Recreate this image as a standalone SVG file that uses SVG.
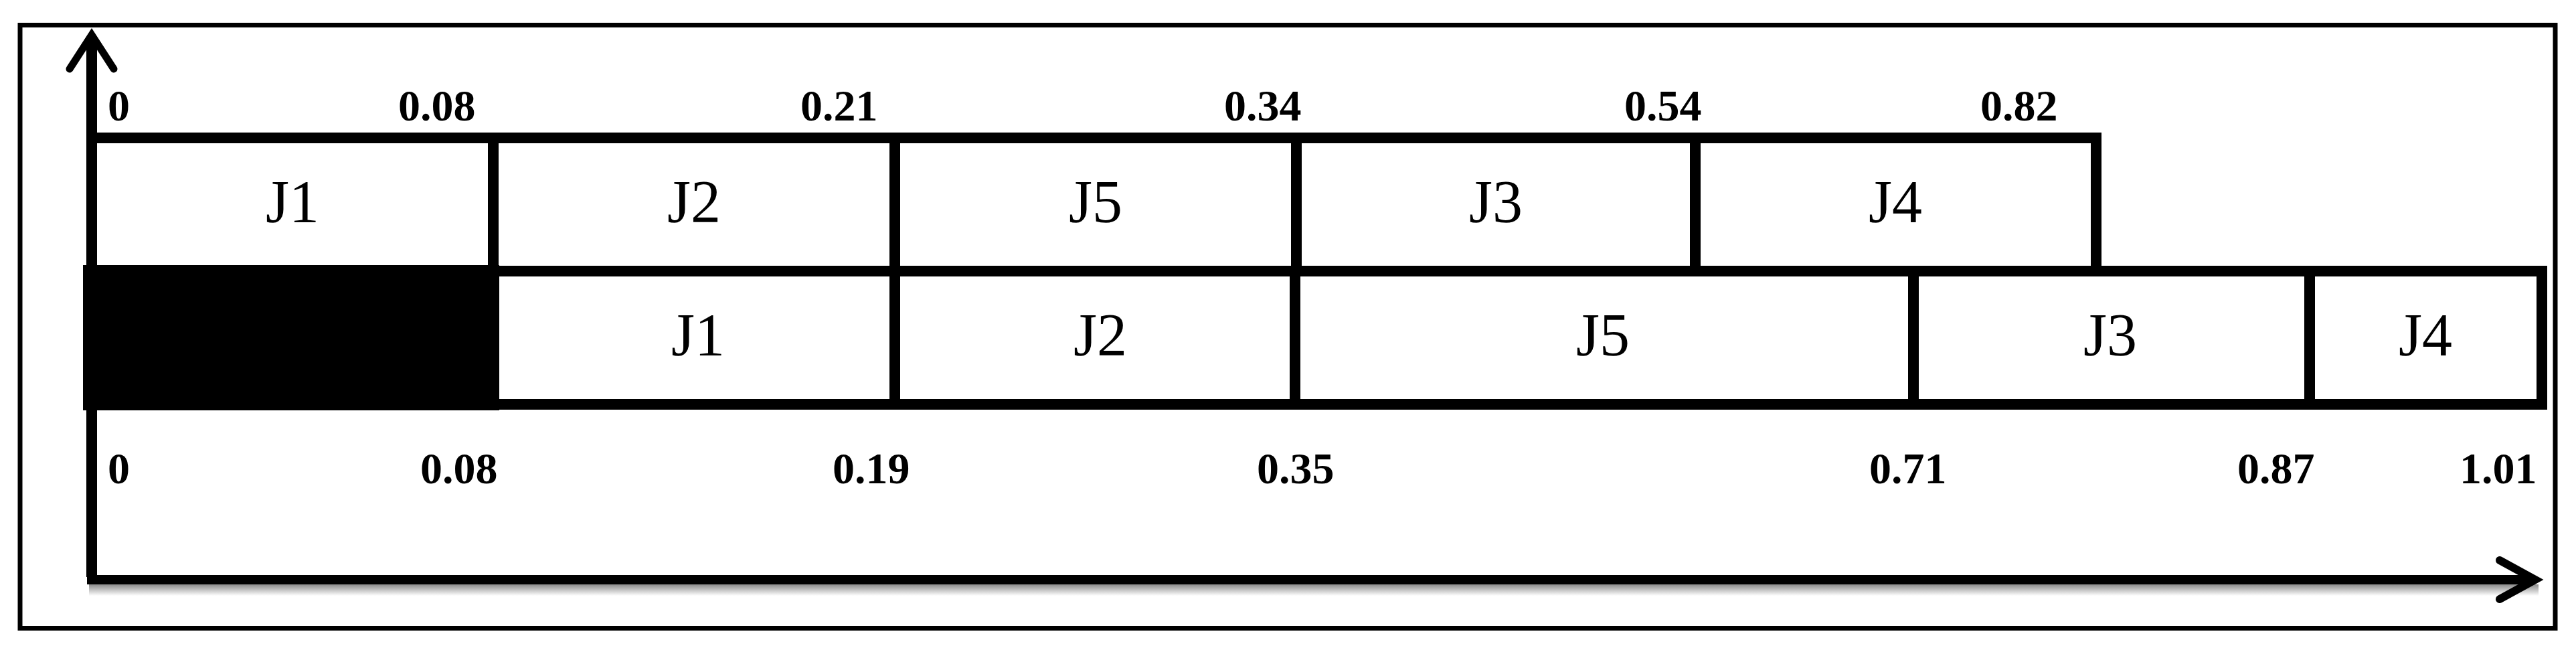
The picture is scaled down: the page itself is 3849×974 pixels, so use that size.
<svg xmlns="http://www.w3.org/2000/svg" width="3849" height="974" viewBox="0 0 3849 974">
<defs>
<style>
.box{fill:#fff;stroke:#000;stroke-width:16;stroke-linejoin:miter}
.lbl{font-family:"Liberation Serif","Times New Roman",serif;font-size:90px;fill:#000;text-anchor:middle}
.num{font-family:"Liberation Serif","Times New Roman",serif;font-size:66px;font-weight:bold;fill:#000}
.axis{stroke:#000;fill:none}
</style>
<linearGradient id="shadow" x1="0" y1="0" x2="0" y2="1">
<stop offset="0" stop-color="#8a8a8a"/>
<stop offset="1" stop-color="#ffffff"/>
</linearGradient>
</defs>
<rect x="0" y="0" width="3849" height="974" fill="#fff"/>
<rect id="frame" x="30" y="37.5" width="3788" height="901" fill="none" stroke="#000" stroke-width="7"/>

<g id="connectors">
<rect x="133" y="873" width="3660" height="17" fill="url(#shadow)"/>
<line class="axis" x1="137" y1="862" x2="137" y2="56" stroke-width="16"/>
<polyline class="axis" points="104,103 137,52 170,103" stroke-width="11" stroke-linecap="round" stroke-linejoin="miter"/>
<line class="axis" x1="130" y1="866" x2="3788" y2="866" stroke-width="14"/>
<polyline class="axis" points="3735,837 3788,866 3735,895" stroke-width="12" stroke-linecap="round" stroke-linejoin="miter"/>
</g>

<g id="m1-j1"><rect class="box" x="137" y="206" width="600" height="199"/><text class="lbl" x="437" y="332">J1</text></g>
<g id="m1-j2"><rect class="box" x="737" y="206" width="600" height="199"/><text class="lbl" x="1037" y="332">J2</text></g>
<g id="m1-j5"><rect class="box" x="1337" y="206" width="600" height="199"/><text class="lbl" x="1637" y="332">J5</text></g>
<g id="m1-j3"><rect class="box" x="1937" y="206" width="596" height="199"/><text class="lbl" x="2235" y="332">J3</text></g>
<g id="m1-j4"><rect class="box" x="2533" y="206" width="599" height="199"/><text class="lbl" x="2832" y="332">J4</text></g>

<g id="m2-j1"><rect class="box" x="738" y="405" width="599" height="199"/><text class="lbl" x="1043" y="531">J1</text></g>
<g id="m2-j2"><rect class="box" x="1337" y="405" width="598" height="199"/><text class="lbl" x="1644" y="531">J2</text></g>
<g id="m2-j5"><rect class="box" x="1935" y="405" width="924" height="199"/><text class="lbl" x="2395" y="531">J5</text></g>
<g id="m2-j3"><rect class="box" x="2859" y="405" width="592" height="199"/><text class="lbl" x="3153" y="531">J3</text></g>
<g id="m2-j4"><rect class="box" x="3451" y="405" width="347" height="199"/><text class="lbl" x="3624" y="531">J4</text></g>

<g id="idle">
<rect x="124" y="396" width="622" height="217" fill="#000"/>
</g>

<g id="top-times">
<text class="num" x="161" y="180">0</text>
<text class="num" x="595" y="180">0.08</text>
<text class="num" x="1196" y="180">0.21</text>
<text class="num" x="1829" y="180">0.34</text>
<text class="num" x="2427" y="180">0.54</text>
<text class="num" x="2959" y="180">0.82</text>
</g>
<g id="bottom-times">
<text class="num" x="161" y="722">0</text>
<text class="num" x="628" y="722">0.08</text>
<text class="num" x="1244" y="722">0.19</text>
<text class="num" x="1878" y="722">0.35</text>
<text class="num" x="2793" y="722">0.71</text>
<text class="num" x="3343" y="722">0.87</text>
<text class="num" x="3675" y="722">1.01</text>
</g>
</svg>
